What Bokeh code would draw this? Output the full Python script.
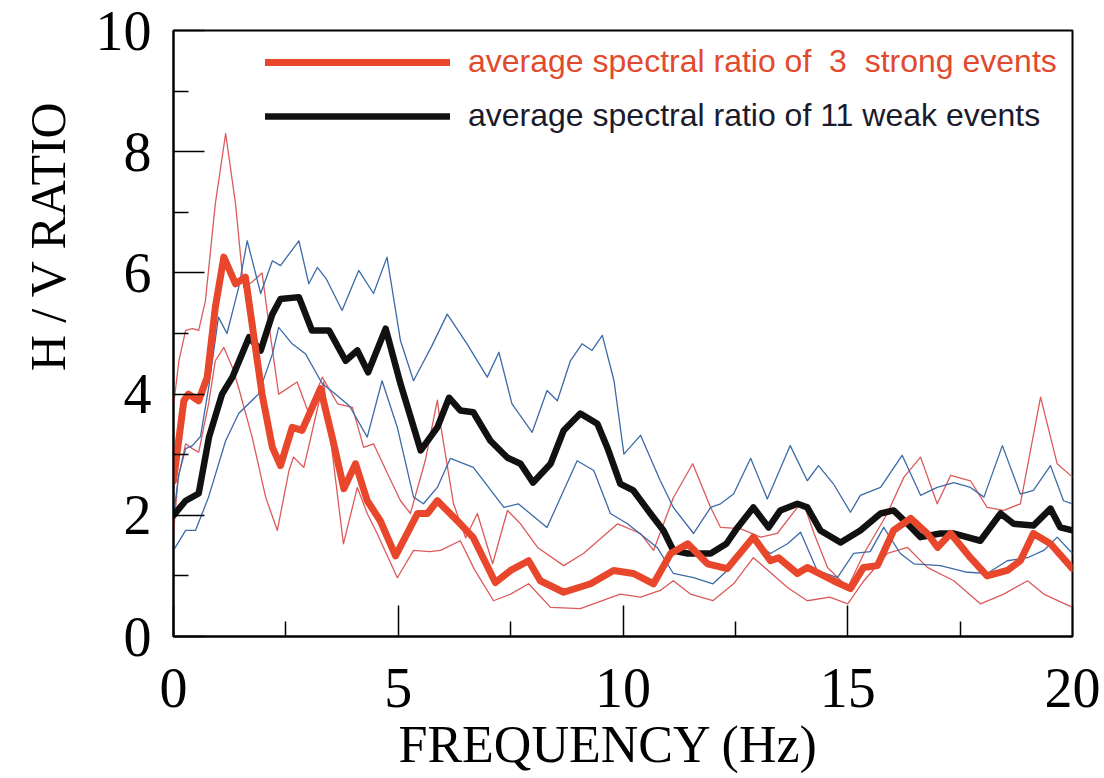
from bokeh.plotting import figure
from bokeh.models import Range1d, FixedTicker, Legend, LegendItem, Title
from bokeh.embed import file_html
from bokeh.resources import INLINE

# ---------------- data ----------------
# average spectral ratio of 3 strong events (thick red)
strong_f = [0, 0.23, 0.33, 0.56, 0.75, 0.93, 1.12, 1.38, 1.6, 1.79, 1.97, 2.2, 2.38, 2.64, 2.86, 3.27,
            3.53, 3.79, 4.05, 4.31, 4.6, 4.94, 5.43, 5.65, 5.87, 6.38, 6.67, 7.16, 7.5, 7.9, 8.16, 8.68,
            9.28, 9.79, 10.23, 10.68, 11.06, 11.44, 11.88, 12.32, 12.9, 13.28, 13.46, 13.88, 14.1, 14.68,
            15.06, 15.35, 15.66, 16.02, 16.4, 16.77, 17.0, 17.29, 17.73, 18.1, 18.55, 18.84, 19.13, 19.51, 20.0]
strong_avg = [2.57, 3.89, 4.0, 3.89, 4.28, 5.43, 6.26, 5.82, 5.93, 4.94, 4.0, 3.12, 2.82, 3.45, 3.4, 4.09,
              3.29, 2.44, 2.85, 2.24, 1.91, 1.33, 2.03, 2.03, 2.24, 1.86, 1.63, 0.89, 1.09, 1.25, 0.92, 0.73,
              0.87, 1.09, 1.04, 0.87, 1.37, 1.53, 1.2, 1.12, 1.64, 1.25, 1.3, 1.04, 1.14, 0.92,
              0.79, 1.14, 1.17, 1.75, 1.95, 1.7, 1.47, 1.7, 1.3, 1.0, 1.09, 1.25, 1.7, 1.53, 1.12]

# average spectral ratio of 11 weak events (thick black)
weak_f = [0, 0.27, 0.56, 0.79, 1.08, 1.31, 1.68, 1.94, 2.2, 2.38, 2.79, 3.08, 3.46, 3.83, 4.09, 4.33,
          4.72, 5.05, 5.5, 5.87, 6.13, 6.38, 6.67, 7.05, 7.43, 7.72, 8.0, 8.39, 8.68, 9.05, 9.43, 9.65,
          9.94, 10.23, 10.61, 10.9, 11.12, 11.44, 11.95, 12.3, 12.55, 12.9, 13.24, 13.5, 13.88, 14.1,
          14.39, 14.84, 15.28, 15.73, 16.02, 16.33, 16.62, 17.06, 17.35, 17.95, 18.4, 18.69, 19.13, 19.51,
          19.73, 20.0]
weak_avg = [2.0, 2.24, 2.36, 3.29, 4.0, 4.28, 4.94, 4.72, 5.32, 5.57, 5.6, 5.05, 5.05, 4.55, 4.72, 4.36,
            5.08, 4.17, 3.07, 3.45, 3.94, 3.73, 3.7, 3.23, 2.95, 2.85, 2.54, 2.85, 3.4, 3.68, 3.51, 3.12,
            2.52, 2.41, 2.03, 1.75, 1.42, 1.37, 1.37, 1.53, 1.8, 2.13, 1.8, 2.08, 2.19, 2.13,
            1.75, 1.55, 1.75, 2.03, 2.08, 1.86, 1.64, 1.7, 1.7, 1.58, 2.03, 1.86, 1.83, 2.11,
            1.8, 1.75]

# strong events, upper / lower envelope (thin red)
strong_hi_f = [0, 0.12, 0.27, 0.42, 0.56, 0.71, 0.93, 1.16, 1.38, 1.56, 1.75, 1.97, 2.15, 2.34, 2.75, 3.0,
               3.31, 3.65, 3.98, 4.23, 4.45, 4.76, 5.05, 5.27, 5.6, 5.87, 5.94, 6.23, 6.5, 6.76, 7.1, 7.43,
               7.72, 8.1, 8.68, 9.12, 9.88, 10.39, 10.68, 11.12, 11.55, 11.95, 12.17, 12.61, 13.06, 13.43,
               13.88, 14.02, 14.25, 14.55, 15.0, 15.36, 15.88, 16.25, 16.62, 16.99, 17.29, 17.73, 18.1,
               18.47, 18.84, 19.29, 19.66, 20.0]
strong_hi = [3.8, 4.55, 5.05, 5.08, 5.05, 5.54, 7.14, 8.3, 7.14, 5.76, 5.85, 6.0, 5.0, 4.0, 4.2, 3.7,
             4.28, 3.84, 3.78, 3.12, 3.18, 2.69, 2.24, 2.03, 2.9, 3.9, 3.5, 2.19, 1.63, 2.03, 1.2, 2.08,
             1.86, 1.47, 1.17, 1.37, 1.86, 1.7, 1.42, 2.29, 2.85, 2.13, 1.8, 1.78, 1.64, 1.7,
             2.13, 2.19, 1.7, 1.14, 0.81, 1.37, 2.03, 2.63, 2.96, 2.19, 2.66, 2.57, 2.13,
             2.08, 2.19, 3.95, 2.85, 2.63]
strong_lo_f = [0, 0.1, 0.27, 0.42, 0.56, 0.78, 0.93, 1.12, 1.31, 1.45, 1.75, 2.05, 2.31, 2.57, 2.67, 2.9,
               3.34, 3.78, 4.09, 4.31, 4.53, 4.98, 5.34, 5.7, 5.94, 6.38, 6.7, 7.12, 7.5, 7.9, 8.39, 9.05,
               9.94, 10.39, 10.83, 11.12, 11.5, 12.0, 12.46, 12.9, 13.66, 14.1, 14.6, 15.0, 15.36, 15.88,
               16.33, 16.77, 17.36, 17.95, 18.47, 19.0, 19.36, 20.0]
strong_lo = [1.7, 2.6, 3.18, 3.1, 3.04, 3.84, 4.55, 4.77, 4.44, 4.1, 3.29, 2.3, 1.75, 2.74, 2.96, 2.79,
             4.2, 1.53, 2.46, 2.03, 1.7, 0.97, 1.42, 1.4, 1.42, 1.58, 1.1, 0.59, 0.7, 0.87, 0.48, 0.46,
             0.7, 0.65, 0.76, 0.92, 0.7, 0.59, 0.87, 1.3, 0.81, 0.59, 0.65, 0.54, 0.92, 1.37,
             1.47, 1.14, 0.92, 0.54, 0.7, 0.92, 0.7, 0.48]

# weak events, upper / lower envelope (thin blue)
weak_hi_f = [0, 0.12, 0.27, 0.42, 0.6, 0.78, 1.0, 1.19, 1.45, 1.64, 1.94, 2.2, 2.38, 2.79, 3.01, 3.2,
             3.4, 3.75, 4.12, 4.45, 4.75, 5.05, 5.34, 5.75, 6.09, 6.53, 6.98, 7.24, 7.53, 7.98, 8.31, 8.54,
             8.83, 9.09, 9.31, 9.54, 9.8, 10.02, 10.39, 10.83, 11.12, 11.57, 11.95, 12.17, 12.46, 12.84,
             13.21, 13.72, 14.1, 14.35, 14.68, 15.06, 15.28, 15.73, 16.21, 16.62, 16.99, 17.36, 17.73,
             18.03, 18.44, 18.84, 19.13, 19.51, 19.8, 20.0]
weak_hi = [2.0, 2.68, 3.1, 3.15, 3.3, 4.1, 5.27, 5.0, 5.76, 6.53, 5.66, 6.2, 6.12, 6.53, 5.82, 6.09,
           5.9, 5.38, 6.04, 5.66, 6.26, 4.88, 4.22, 4.8, 5.32, 4.83, 4.28, 4.69, 3.84, 3.37, 4.06, 3.89,
           4.55, 4.83, 4.72, 4.97, 4.22, 3.01, 3.32, 2.57, 2.13, 1.7, 2.13, 2.19, 2.35, 2.94,
           2.27, 3.15, 2.57, 2.82, 2.52, 2.05, 2.33, 2.46, 2.99, 2.33, 2.46, 2.54, 2.46,
           2.3, 3.15, 2.35, 2.41, 2.82, 2.24, 2.19]
weak_lo_f = [0, 0.27, 0.49, 0.78, 1.16, 1.45, 1.89, 2.2, 2.34, 2.64, 2.94, 3.31, 3.6, 3.92, 4.31, 4.64,
             4.98, 5.34, 5.56, 5.87, 6.16, 6.67, 7.35, 7.67, 8.31, 8.98, 9.35, 9.72, 10.1, 10.76, 11.12,
             11.57, 12.0, 12.39, 12.61, 12.9, 13.28, 13.66, 13.95, 14.32, 14.77, 15.13, 15.5, 15.8,
             16.17, 16.47, 17.06, 17.66, 18.1, 18.55, 19.0, 19.36, 19.66, 20.0]
weak_lo = [1.42, 1.75, 1.75, 2.3, 3.23, 3.68, 4.0, 4.66, 5.1, 4.83, 4.66, 4.17, 4.0, 3.8, 3.29, 4.22,
           3.45, 2.3, 2.19, 2.46, 2.94, 2.79, 2.13, 2.19, 1.8, 2.9, 2.74, 2.03, 1.86, 1.47, 1.04,
           0.97, 0.87, 1.14, 1.37, 1.58, 1.37, 1.53, 1.72, 1.09, 0.97, 1.37, 1.4, 1.8,
           1.37, 1.2, 1.17, 1.06, 1.04, 1.25, 1.3, 1.42, 1.64, 1.37]

x_major = [0, 5, 10, 15, 20]
x_minor = [2.5, 7.5, 12.5, 17.5]
y_major = [0, 2, 4, 6, 8, 10]
y_minor = [1, 3, 5, 7, 9]

legend_strong = "average spectral ratio of  3  strong events"
legend_weak = "average spectral ratio of 11 weak events"
x_title = "FREQUENCY (Hz)"
y_title = "H / V RATIO"

# ---------------- styling ----------------
RED = "#e8472c"
RED_THIN = "#dc5a5a"
BLUE_THIN = "#3b6aa6"
BLACK = "#111111"
SERIF = "Liberation Serif"
SANS = "Liberation Sans"

p = figure(width=1104, height=778, output_backend="svg", toolbar_location=None,
           x_range=Range1d(0, 20), y_range=Range1d(0, 10),
           min_border_left=173, min_border_right=32, min_border_top=30, min_border_bottom=142)
p.background_fill_color = "white"
p.border_fill_color = "white"
p.outline_line_color = "black"
p.outline_line_width = 2
p.xgrid.visible = False
p.ygrid.visible = False

# thin envelopes
p.line(strong_hi_f, strong_hi, line_color=RED_THIN, line_width=1.3, line_join="round")
p.line(strong_lo_f, strong_lo, line_color=RED_THIN, line_width=1.3, line_join="round")
p.line(weak_hi_f, weak_hi, line_color=BLUE_THIN, line_width=1.3, line_join="round")
p.line(weak_lo_f, weak_lo, line_color=BLUE_THIN, line_width=1.3, line_join="round")

# thick averages
r_black = p.line(weak_f, weak_avg, line_color=BLACK, line_width=6.5, line_join="round", line_cap="round")
r_red = p.line(strong_f, strong_avg, line_color=RED, line_width=7, line_join="round", line_cap="round")

# axes
for ax in (p.xaxis[0], p.yaxis[0]):
    ax.axis_line_width = 2
    ax.axis_line_color = "black"
    ax.major_tick_in = 31
    ax.major_tick_out = 0
    ax.minor_tick_in = 15
    ax.minor_tick_out = 0
    ax.major_tick_line_width = 1.5
    ax.minor_tick_line_width = 1.5
    ax.major_tick_line_color = "black"
    ax.minor_tick_line_color = "black"
    ax.major_label_text_font = SERIF
    ax.major_label_text_font_size = "56px"
    ax.major_label_text_color = "black"

p.xaxis[0].ticker = FixedTicker(ticks=x_major, minor_ticks=x_minor)
p.yaxis[0].ticker = FixedTicker(ticks=y_major, minor_ticks=y_minor)
p.xaxis[0].major_label_standoff = 32
p.yaxis[0].major_label_standoff = 22

# axis titles as side titles (so they can be shifted like in the original)
p.add_layout(Title(text=x_title, align="left", offset=225, standoff=8,
                   text_font=SERIF, text_font_size="52px", text_font_style="normal",
                   text_color="black"), "below")
p.add_layout(Title(text=y_title, align="right", offset=70, standoff=34,
                   text_font=SERIF, text_font_size="50px", text_font_style="normal",
                   text_color="black"), "left")

# legends (one per entry so each label keeps its own colour)
def make_legend(label, renderer, color, vy):
    return Legend(items=[LegendItem(label=label, renderers=[renderer])],
                  location=(92, vy), orientation="vertical",
                  glyph_width=185, glyph_height=28, label_height=28, label_width=10,
                  label_standoff=18, padding=0, margin=0, spacing=0,
                  label_text_font=SANS, label_text_font_size="32px", label_text_color=color,
                  border_line_alpha=0, background_fill_alpha=0)

p.add_layout(make_legend(legend_strong, r_red, "#e24a2e", 556))
p.add_layout(make_legend(legend_weak, r_black, "#1b1b2b", 502))

open("out.html", "w").write(file_html(p, INLINE))
